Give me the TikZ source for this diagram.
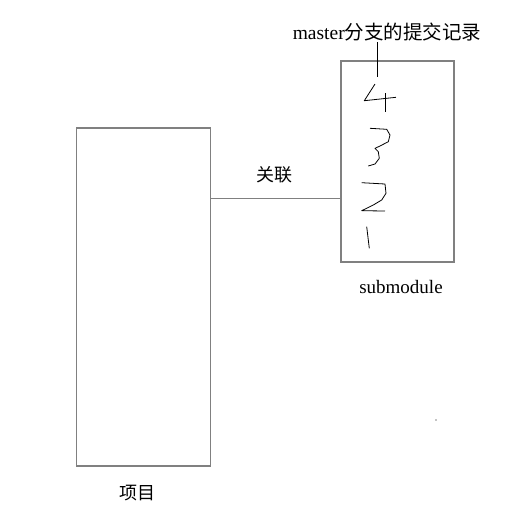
\documentclass[tikz,border=0pt]{standalone}
\usepackage{fontspec}
\setmainfont{Liberation Serif}
\newfontfamily\cjk{Noto Sans CJK SC}
\usepackage{xcolor}
\usetikzlibrary{positioning}
\definecolor{boxgray}{RGB}{128,128,128}

\begin{document}
\begin{tikzpicture}[x=1pt, y=-1pt,
  box/.style={draw=boxgray, line width=1.7pt, inner sep=0pt},
  lbl/.style={inner sep=1pt, font=\fontsize{18}{20}\selectfont}]
  \useasboundingbox (0,0) rectangle (521,523);
  % project and submodule
  \node[box, minimum width=134pt, minimum height=338pt] (proj) at (143.5,297) {};
  \node[box, minimum width=113pt, minimum height=201pt] (sub) at (397.5,161.5) {};
  \node[lbl] (projlbl) at (137,493.5) {\cjk 项目};
  \node[lbl, font=\fontsize{19}{21}\selectfont] (sublbl) at (401,287) {submodule};
  % link
  \coordinate (lk) at (275,198);
  \draw[boxgray, line width=0.9pt] (lk -| proj.east) -- (lk -| sub.west);
  \node[lbl] (lklbl) at (274.5,175) {\cjk 关联};
  % commits
  \node[lbl, font=\fontsize{19.5}{21}\selectfont] (title) at (387,32) {master{\cjk 分支的提交记录}};
  \coordinate (tip) at (377,77);
  \draw[line width=0.8pt] (title.south -| tip) -- (tip);
  \begin{scope}[line width=0.8pt, line join=round]
    \draw (375,84) -- (364.3,100.7) -- (396,97.3);
    \draw (385,93.3) -- (385,111.7);
    \draw (370,128.3) -- (386.7,129.3) -- (390,135) -- (388.3,141.7) -- (380,146)
      -- (375,148.3) -- (378.3,151.7) -- (379.3,158.3) -- (375,164) -- (368.3,166);
    \draw (361.7,182.7) -- (385,184) -- (386,193.3) -- (381.7,200) -- (373.3,205)
      -- (361.7,210.7) -- (385,211);
    \draw (366.7,226.7) -- (369.3,248.3);
  \end{scope}
  \fill (436,420) circle (0.7pt);
\end{tikzpicture}
\end{document}
